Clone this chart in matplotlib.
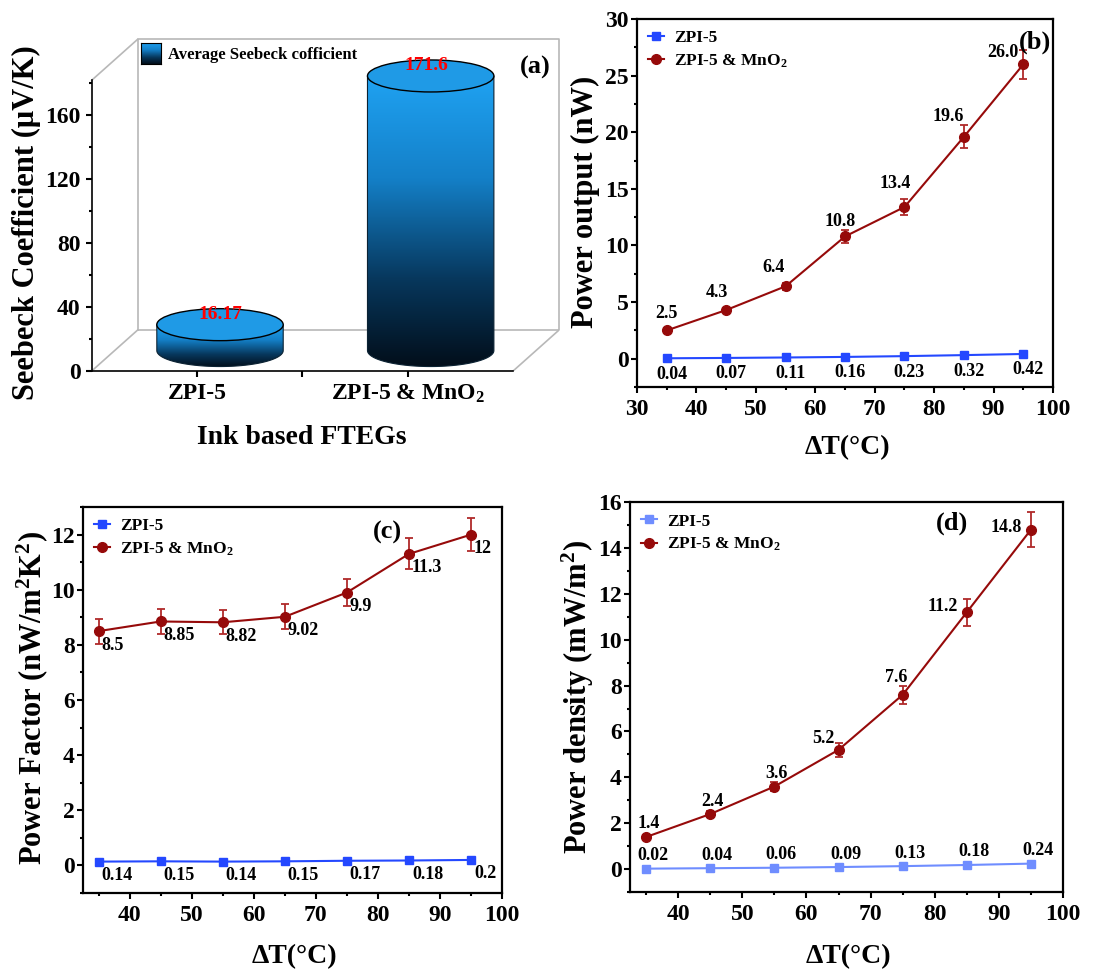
import numpy as np
import matplotlib
matplotlib.use('Agg')
import matplotlib.pyplot as plt
from matplotlib.patches import Ellipse, PathPatch
from matplotlib.path import Path
from matplotlib.colors import LinearSegmentedColormap
from matplotlib.ticker import MultipleLocator, FixedLocator

plt.rcParams['font.family'] = ['Liberation Serif', 'DejaVu Serif']
plt.rcParams['font.weight'] = 'bold'
plt.rcParams['mathtext.fontset'] = 'custom'
plt.rcParams['mathtext.rm'] = 'Liberation Serif:bold'
plt.rcParams['mathtext.it'] = 'Liberation Serif:bold'
plt.rcParams['mathtext.bf'] = 'Liberation Serif:bold'
plt.rcParams['mathtext.default'] = 'rm'

# ---- data ----
ftegs = ['ZPI-5', 'ZPI-5 & MnO$_2$']
seebeck = [16.17, 171.6]

dT = [35, 45, 55, 65, 75, 85, 95]
power_zpi = [0.04, 0.07, 0.11, 0.16, 0.23, 0.32, 0.42]
power_mno2 = [2.5, 4.3, 6.4, 10.8, 13.4, 19.6, 26.0]
power_mno2_err = [0.2, 0.2, 0.3, 0.6, 0.75, 1.0, 1.3]
pf_zpi = [0.14, 0.15, 0.14, 0.15, 0.17, 0.18, 0.2]
pf_mno2 = [8.5, 8.85, 8.82, 9.02, 9.9, 11.3, 12]
pf_mno2_err = [0.45, 0.47, 0.44, 0.45, 0.5, 0.56, 0.59]
pd_zpi = [0.02, 0.04, 0.06, 0.09, 0.13, 0.18, 0.24]
pd_mno2 = [1.4, 2.4, 3.6, 5.2, 7.6, 11.2, 14.8]
pd_mno2_err = [0.1, 0.12, 0.18, 0.3, 0.38, 0.58, 0.75]

RED = '#960a0a'
ERR = '#b02a2a'
BLUE = '#2448ff'
LBLUE = '#6f8dff'

blue_cmap = LinearSegmentedColormap.from_list(
    'cyl', [(0, '#020e1a'), (0.3, '#07375c'), (0.65, '#1480c8'), (1, '#1fa2f2')])

fig = plt.figure(figsize=(11.1, 9.71), dpi=100)


def style_ticks(ax, lsize=17):
    ax.tick_params(which='both', direction='out', width=1.5, labelsize=lsize,
                   top=False, right=False)
    ax.tick_params(which='major', length=4.5)
    ax.tick_params(which='minor', length=2.5)
    ax.tick_params(axis='y', pad=1.5)
    ax.tick_params(axis='x', pad=4)
    for s in ax.spines.values():
        s.set_linewidth(1.6)


# ---- (a) pseudo-3D cylinder bars ----
ax = fig.add_axes([0.0826, 0.6179, 0.421, 0.3416])
dx, dy = 0.218, 25.6
ytop = 181.7
ax.spines['top'].set_visible(False)
ax.spines['right'].set_visible(False)
ax.spines['left'].set_bounds(0, ytop)
ax.spines['bottom'].set_bounds(-0.5, 1.5)
style_ticks(ax)
ax.spines['left'].set_linewidth(1.2)
ax.spines['bottom'].set_linewidth(1.2)
ax.tick_params(axis='y', pad=3.5)
ax.yaxis.set_major_locator(FixedLocator([0, 40, 80, 120, 160]))
ax.yaxis.set_minor_locator(FixedLocator([20, 60, 100, 140, 180]))
ax.xaxis.set_major_locator(FixedLocator([0, 1]))
ax.xaxis.set_minor_locator(FixedLocator([0.5]))
ax.set_xticklabels(ftegs, fontsize=17)
ax.tick_params(axis='x', which='minor', length=4.5)

gray = '#b8b8b8'
ax.plot([-0.5 + dx, 1.5 + dx, 1.5 + dx, -0.5 + dx, -0.5 + dx],
        [dy, dy, ytop + dy, ytop + dy, dy], color=gray, lw=1.2, clip_on=False)
ax.plot([-0.5, -0.5 + dx], [0, dy], color=gray, lw=1.2)
ax.plot([1.5, 1.5 + dx], [0, dy], color=gray, lw=1.2)
ax.plot([-0.5, -0.5 + dx], [ytop, ytop + dy], color=gray, lw=1.2, clip_on=False)

cyl_w, cyl_eh = 0.6, 20.0
for i, v in enumerate(seebeck):
    xc = i + dx / 2
    base = dy / 2
    top = base + v
    left, right = xc - cyl_w / 2, xc + cyl_w / 2
    t = np.linspace(np.pi, 2 * np.pi, 80)
    arc = np.column_stack([xc + cyl_w / 2 * np.cos(t), base + cyl_eh / 2 * np.sin(t)])
    verts = np.vstack([[left, top], arc, [right, top], [left, top]])
    side = PathPatch(Path(verts, closed=True), facecolor='none',
                     edgecolor='#0b2233', lw=0.8, zorder=3)
    ax.add_patch(side)
    grad = np.linspace(0, 1, 256).reshape(-1, 1)
    im = ax.imshow(grad, cmap=blue_cmap, origin='lower', aspect='auto',
                   extent=(left, right, base - cyl_eh / 2, top), zorder=2)
    im.set_clip_path(side)
    ax.add_patch(Ellipse((xc, top), cyl_w, cyl_eh, facecolor='#1f9ae6',
                         edgecolor='black', lw=1, zorder=4))
    ax.text(xc - 0.02 * i, top + 6.5, '{:g}'.format(v), color='red', fontsize=14,
            ha='center', va='center', zorder=5)
ax.set_xlim(-0.5, 1.5 + dx)
ax.set_ylim(0, ytop + dy)

sw = ax.inset_axes([0.105, 0.9246, 0.0434, 0.0651])
sw.imshow(np.linspace(0, 1, 64).reshape(-1, 1), cmap=blue_cmap, origin='lower',
          aspect='auto')
sw.set_xticks([])
sw.set_yticks([])
for s in sw.spines.values():
    s.set_linewidth(0.8)
ax.text(0.163, 0.953, 'Average Seebeck cofficient', transform=ax.transAxes,
        fontsize=12, va='center', ha='left')
ax.text(-0.108, 0.446, 'Seebeck Coefficient (\u03bcV/K)', transform=ax.transAxes,
        rotation=90, fontsize=22, ha='right', va='center')
ax.text(0.45, -0.199, 'Ink based FTEGs', transform=ax.transAxes,
        fontsize=20, ha='center', va='center')
fig.text(0.482, 0.931, '(a)', fontsize=19, ha='center', va='center')


# ---- line panels ----
def line_panel(rect, zpi, mno2, err, zcolor, xlim, ylim, ystep, ylabel,
               ylab_x, ylab_y, tag, tag_xy, zfmt, mfmt, zoff, moff, zha, mha):
    ax = fig.add_axes(rect)
    ax.plot(dT, zpi, '-s', color=zcolor, ms=6, lw=1.5, label='ZPI-5', zorder=3)
    ax.plot(dT, mno2, '-o', color=RED, ms=7, lw=1.5, label='ZPI-5 & MnO$_2$', zorder=3)
    ax.errorbar(dT, mno2, yerr=err, fmt='none', ecolor=ERR, elinewidth=1.3,
                capsize=3, capthick=1.3, zorder=2)
    ax.set_xlim(*xlim)
    ax.set_ylim(*ylim)
    ax.xaxis.set_major_locator(MultipleLocator(10))
    ax.xaxis.set_minor_locator(MultipleLocator(5))
    ax.yaxis.set_major_locator(MultipleLocator(ystep))
    ax.yaxis.set_minor_locator(MultipleLocator(ystep / 2))
    style_ticks(ax)
    for x, v, o in zip(dT, zpi, zoff):
        ax.annotate(zfmt.format(v), (x, v), xytext=o, textcoords='offset pixels',
                    fontsize=13, ha=zha, va='center')
    for x, v, o in zip(dT, mno2, moff):
        ax.annotate(mfmt.format(v), (x, v), xytext=o, textcoords='offset pixels',
                    fontsize=13, ha=mha, va='center')
    ax.legend(loc='upper left', frameon=False, fontsize=12.5, handlelength=0.9,
              handletextpad=0.6, borderaxespad=0.25, labelspacing=0.35)
    ax.text(ylab_x, ylab_y, ylabel, transform=ax.transAxes, rotation=90,
            fontsize=22, ha='right', va='center')
    ax.text(0.505, -0.165, '\u0394T(\u00b0C)', transform=ax.transAxes,
            fontsize=20, ha='center', va='center')
    ax.text(tag_xy[0], tag_xy[1], tag, transform=ax.transAxes, fontsize=19,
            ha='center', va='center')
    return ax


line_panel([0.5739, 0.6014, 0.3748, 0.379], power_zpi, power_mno2, power_mno2_err,
           BLUE, (30, 100), (-2.5, 30), 5, 'Power output (nW)', -0.089, 0.503,
           '(b)', (0.957, 0.9375), '{:.2f}', '{:.1f}',
           [(5, -16)] * 7,
           [(0, 17), (-9, 18), (-12, 19), (-5, 15), (-9, 23), (-16, 20), (-20, 12)],
           'center', 'center')

line_panel([0.0748, 0.0803, 0.3775, 0.3975], pf_zpi, pf_mno2, pf_mno2_err,
           BLUE, (32.5, 100), (-1, 13), 2, 'Power Factor (nW/m$^2$K$^2$)',
           -0.079, 0.505,
           '(c)', (0.726, 0.933), '{:g}', '{:g}',
           [(3, -14)] * 7, [(3, -14)] * 7, 'left', 'left')

line_panel([0.5676, 0.0813, 0.3901, 0.4016], pd_zpi, pd_mno2, pd_mno2_err,
           LBLUE, (32.5, 100), (-1, 16), 2, 'Power density (mW/m$^2$)',
           -0.0785, 0.5,
           '(d)', (0.744, 0.946), '{:.2f}', '{:g}',
           [(7, 13)] * 7,
           [(3, 14), (2, 13), (2, 13), (-15, 11), (-6, 17), (-24, 6), (-25, 2)],
           'center', 'center')

fig.savefig('out.png', dpi=100)
